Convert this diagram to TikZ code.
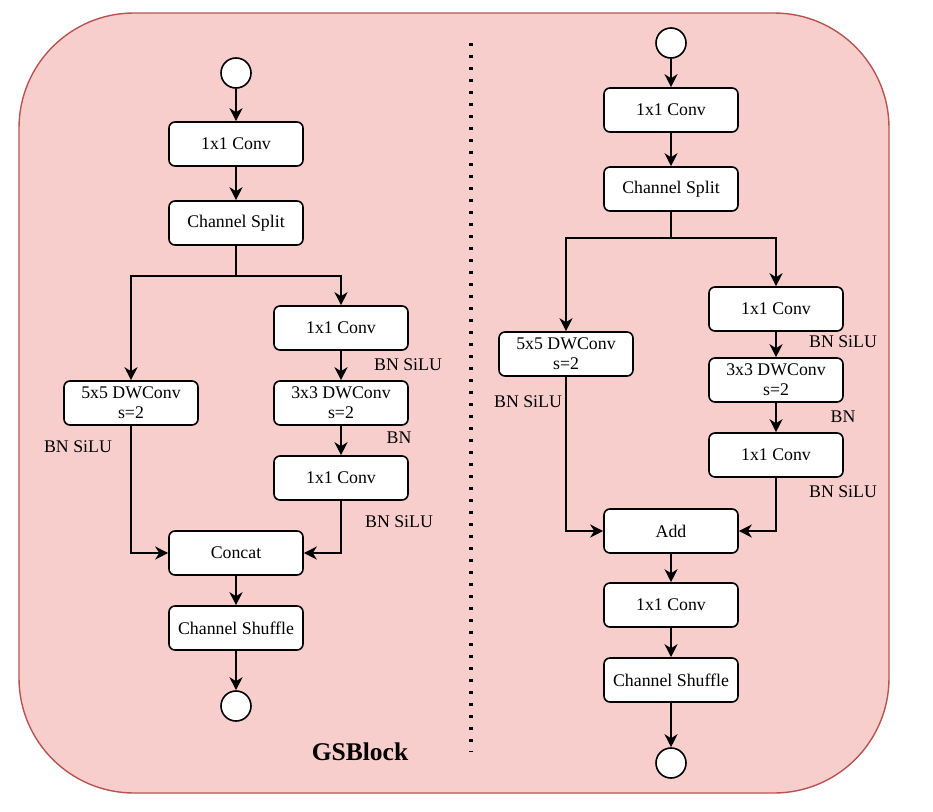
\documentclass[tikz,border=0pt]{standalone}
\usepackage{fontspec}
\setmainfont{Liberation Serif}
\usetikzlibrary{arrows.meta}
\definecolor{bgfill}{HTML}{F8CECC}
\definecolor{bgline}{HTML}{B85450}
\tikzset{
  blk/.style={draw=black, line width=1.6pt, fill=white, rounded corners=6pt, inner sep=0pt,
    minimum width=134pt, minimum height=44pt, align=center,
    font=\fontsize{17.8}{20}\selectfont},
  term/.style={draw=black, line width=1.6pt, fill=white, circle, minimum size=30pt, inner sep=0pt},
  arr/.style={line width=1.6pt, -{Stealth[length=13pt,width=13pt,inset=4pt]}},
  ln/.style={line width=1.6pt},
  lbl/.style={font=\fontsize{17.8}{18}\selectfont, inner sep=0pt}
}
\begin{document}
\begin{tikzpicture}[x=1pt,y=-1pt]
\useasboundingbox (0,0) rectangle (933,811);
\draw[fill=bgfill, draw=bgline, line width=1.4pt, rounded corners=115pt] (19,13) rectangle (889,793);
\draw[line width=3.4pt, dash pattern=on 3.4pt off 8.6pt] (471,43) -- (471,752);
% ---------- left ----------
\node[term] (lin) at (236,73) {};
\node[blk] (lc1) at (236,144) {1x1 Conv};
\node[blk] (lcs) at (236,223) {Channel Split};
\coordinate (lsp) at (236,276);
\node[blk] (ldw5) at (131,403) {5x5 DWConv\\s=2};
\node[blk] (lc2) at (341,328) {1x1 Conv};
\node[blk] (ldw3) at (341,403) {3x3 DWConv\\s=2};
\node[blk] (lc3) at (341,478) {1x1 Conv};
\node[blk] (lcat) at (236,553) {Concat};
\node[blk] (lsh) at (236,628) {Channel Shuffle};
\node[term] (lout) at (236,706) {};
\node[lbl] (lb1) at (408,365) {BN SiLU};
\node[lbl] (lb2) at (78,447) {BN SiLU};
\node[lbl] (lb3) at (399,438) {BN};
\node[lbl] (lb4) at (399,522) {BN SiLU};
\node[font=\fontsize{25.5}{26}\selectfont\bfseries, inner sep=0pt] (title) at (360,752) {GSBlock};
\draw[arr] (lin) -- (lc1);
\draw[arr] (lc1) -- (lcs);
\draw[ln] (lcs) -- (lsp);
\draw[arr] (lsp) -| (ldw5.north);
\draw[arr] (lsp) -| (lc2.north);
\draw[arr] (lc2) -- (ldw3);
\draw[arr] (ldw3) -- (lc3);
\draw[arr] (ldw5.south) |- (lcat.west);
\draw[arr] (lc3.south) |- (lcat.east);
\draw[arr] (lcat) -- (lsh);
\draw[arr] (lsh) -- (lout);
% ---------- right ----------
\node[term] (rin) at (671,43) {};
\node[blk] (rc1) at (671,110) {1x1 Conv};
\node[blk] (rcs) at (671,189) {Channel Split};
\coordinate (rsp) at (671,238);
\node[blk] (rdw5) at (566,354) {5x5 DWConv\\s=2};
\node[blk] (rc2) at (776,309) {1x1 Conv};
\node[blk] (rdw3) at (776,380) {3x3 DWConv\\s=2};
\node[blk] (rc3) at (776,455) {1x1 Conv};
\node[blk] (radd) at (671,531) {Add};
\node[blk] (rc4) at (671,605) {1x1 Conv};
\node[blk] (rsh) at (671,680) {Channel Shuffle};
\node[term] (rout) at (671,763) {};
\node[lbl] (rb1) at (843,342) {BN SiLU};
\node[lbl] (rb2) at (528,402) {BN SiLU};
\node[lbl] (rb3) at (843,417) {BN};
\node[lbl] (rb4) at (843,492) {BN SiLU};
\draw[arr] (rin) -- (rc1);
\draw[arr] (rc1) -- (rcs);
\draw[ln] (rcs) -- (rsp);
\draw[arr] (rsp) -| (rdw5.north);
\draw[arr] (rsp) -| (rc2.north);
\draw[arr] (rc2) -- (rdw3);
\draw[arr] (rdw3) -- (rc3);
\draw[arr] (rdw5.south) |- (radd.west);
\draw[arr] (rc3.south) |- (radd.east);
\draw[arr] (radd) -- (rc4);
\draw[arr] (rc4) -- (rsh);
\draw[arr] (rsh) -- (rout);
\end{tikzpicture}
\end{document}
